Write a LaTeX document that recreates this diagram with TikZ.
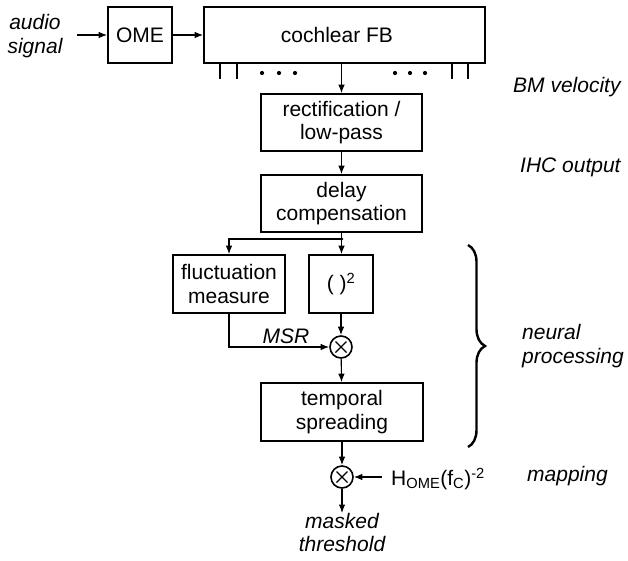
\documentclass[tikz,border=0pt]{standalone}
\usepackage{fontspec}
\setmainfont{Liberation Sans}
\usetikzlibrary{arrows.meta,decorations.pathreplacing}
\begin{document}
\begin{tikzpicture}[x=1pt,y=-1pt,
  every node/.style={font=\fontsize{21}{23.5}\selectfont},
  blk/.style={draw, line width=1.6pt, align=center, inner sep=0pt},
  conn/.style={line width=1.1pt, -{Latex[length=8.5pt,width=6.5pt]}},
  ln/.style={line width=1.2pt},
  mult/.style={draw, circle, line width=1.6pt, minimum size=22pt, inner sep=0pt,
    path picture={\draw[line width=1.2pt] (path picture bounding box.center) ++(-5.5,-5.5) -- ++(11,11) ++(0,-11) -- ++(-11,11);}},
  lab/.style={font=\fontsize{21}{23.5}\selectfont\itshape, align=left, inner sep=0pt},
  dotc/.style={fill, circle, inner sep=0pt, minimum size=3.6pt}]
\useasboundingbox (0,0) rectangle (628,560);

% top row
\node[lab, align=center] (audio) at (35,36) {audio\\signal};
\coordinate (in) at (77,35);
\node[blk, minimum width=64pt, minimum height=56pt] (ome) at (140,35) {OME};
\node[blk, minimum width=281pt, minimum height=56pt] (fb) at (344.5,35) {\hspace*{-15pt}cochlear FB};
\draw[conn] (in) -- (ome);
\draw[conn] (ome) -- (fb);

% filter bank outputs
\draw[ln] (220,63) -- (220,79);
\draw[ln] (237,63) -- (237,79);
\draw[ln] (452,63) -- (452,79);
\draw[ln] (468,63) -- (468,79);
\foreach \x in {262,279,295,395,410,425} \fill (\x,73) circle (2.1);

% main chain
\node[blk, minimum width=161pt, minimum height=57pt] (rect) at (341.5,122.5) {rectification /\\low-pass};
\node[blk, minimum width=161pt, minimum height=57pt] (delay) at (341.5,203.5) {delay\\compensation};
\draw[conn] (rect.north |- fb.south) -- (rect.north);
\draw[conn] (rect) -- (delay);

\coordinate (j) at (341.5,239);
\draw[ln] (delay.south) -- (j);
\node[dotc] (jd) at (j) {};

\node[blk, minimum width=112pt, minimum height=58pt] (fluct) at (229,284) {fluctuation\\measure};
\node[blk, minimum width=64pt, minimum height=58pt] (sq) at (341,284) {(\ )\textsuperscript{2}};
\draw[conn] (j) -| (fluct.north);
\draw[conn] (j) -- (j |- sq.north);

\node[mult] (m1) at (341,347) {};
\draw[conn] (sq) -- (m1);
\draw[conn] (fluct.south) |- (m1.west);
\node[lab] (msr) at (286,336) {MSR};

\node[blk, minimum width=162pt, minimum height=58pt] (temp) at (342,412) {temporal\\spreading};
\draw[conn] (m1) -- (temp);

\node[mult] (m2) at (342,477) {};
\draw[conn] (temp) -- (m2);
\node[anchor=west, inner sep=0pt] (h) at (391,479) {H\textsubscript{OME}(f\textsubscript{C})\textsuperscript{-2}};
\draw[conn] ([xshift=-9pt]h.west |- m2) -- (m2.east);

\node[lab, align=center, anchor=north] (out) at (342,513) {masked\\threshold};
\draw[conn] (m2) -- (out);

% right-hand labels
\node[lab, anchor=west] (bm) at (513,87) {BM velocity};
\node[lab, anchor=west] (ihc) at (520,167) {IHC output};
\node[lab, anchor=west] (neur) at (522,346) {neural\\processing};
\node[lab, anchor=west] (map) at (527,476) {mapping};

% brace
\draw[line width=2.4pt, decorate, decoration={brace, amplitude=17pt}] (468,245) -- (468,447);
\end{tikzpicture}
\end{document}
